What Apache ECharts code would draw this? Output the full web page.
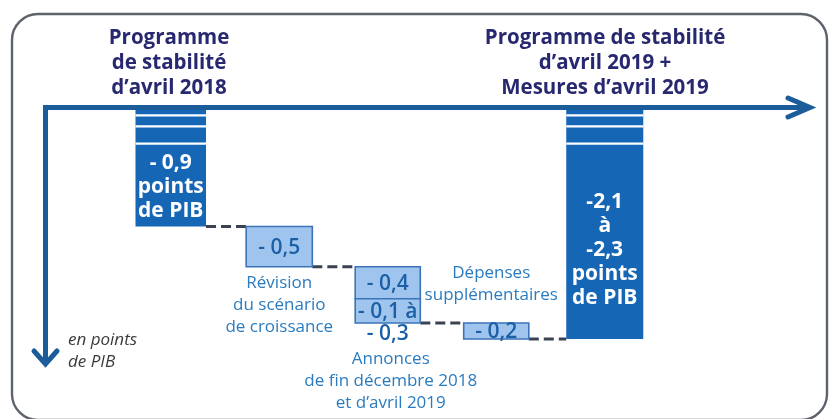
<!DOCTYPE html>
<html lang="fr">
<head>
<meta charset="utf-8">
<title>Solde public : du programme de stabilité 2018 au programme 2019</title>
<script src="https://cdn.jsdelivr.net/npm/echarts@6/dist/echarts.min.js"></script>
<style>
  html, body { margin: 0; padding: 0; background: #ffffff; }
  #chart { width: 829px; height: 419px; }
</style>
</head>
<body>
<div id="chart"></div>
<script>
// Columns of the waterfall, left to right
const columns = [
  'Programme de stabilité d’avril 2018',
  'Révision du scénario de croissance',
  'Annonces de fin décembre 2018 et d’avril 2019',
  'Dépenses supplémentaires',
  'Programme de stabilité d’avril 2019 + Mesures d’avril 2019'
];

// Full-height bars (balance, in points of GDP)
const totalColumns = [0, 4];
const totalValues = [-0.9, -2.3];
const totalLabels = ['- 0,9\npoints\nde PIB', '-2,1\nà\n-2,3\npoints\nde PIB'];

// Intermediate steps (change in points of GDP)
const stepColumns = [1, 2, 2, 3];
const stepValues = [-0.5, -0.4, -0.3, -0.2];
const stepLabels = ['- 0,5', '- 0,4', '- 0,1 à', '- 0,2'];
const stepSubLabels = ['', '', '- 0,3', ''];
const stepNotes = [
  'Révision\ndu scénario\nde croissance',
  '',
  'Annonces\nde fin décembre 2018\net d’avril 2019',
  'Dépenses\nsupplémentaires'
];

// Headers above the two programme bars
const headerTitles = [
  'Programme\nde stabilité\nd’avril 2018',
  'Programme de stabilité\nd’avril 2019 +\nMesures d’avril 2019'
];
const unitLabel = 'en points\nde PIB';

// ---- styling ----
const FONT = '"Open Sans", "Noto Sans", sans-serif';
const DARK = '#1666b6';
const LIGHT = '#9fc5ef';
const LIGHT_EDGE = '#3b74b8';
const STEP_TEXT = '#1b5fa6';
const NOTE_TEXT = '#2a7bbf';
const TITLE_TEXT = '#27286f';
const AXIS = '#1b5c9b';
const LINK = '#3b4251';
const widthRatio = [0.65, 0.61, 0.6, 0.6, 0.71];
// note placement relative to its box: side, vertical gap and horizontal shift in px
const noteLayout = [
  { side: 'below', gap: 5, dx: 0 },
  null,
  { side: 'below', gap: 25, dx: 3 },
  { side: 'above', gap: 17, dx: -5 }
];

// ---- waterfall construction ----
let level = totalValues[0];
const stepData = stepValues.map((v, i) => {
  const from = level;
  level = +(level + v).toFixed(2);
  return [stepColumns[i], from, level, i];
});
const totalData = totalValues.map((v, i) => [totalColumns[i], v, i]);

// connectors at each change of column, at the level shared by the two boxes
const sequence = [[totalColumns[0], totalValues[0]]]
  .concat(stepData.map(d => [d[0], d[2]]))
  .concat([[totalColumns[1], totalValues[1]]]);
const linkData = [];
for (let i = 1; i < sequence.length; i++) {
  if (sequence[i][0] !== sequence[i - 1][0]) {
    linkData.push([sequence[i - 1][0], sequence[i][0], sequence[i - 1][1]]);
  }
}

const chart = echarts.init(document.getElementById('chart'), null, { renderer: 'canvas' });

function halfWidth(api, col) {
  return api.size([1, 0])[0] * widthRatio[col] / 2;
}

function renderTotal(params, api) {
  const col = api.value(0);
  const v = api.value(1);
  const idx = api.value(2);
  const cx = api.coord([col, v])[0];
  const bottom = api.coord([col, v])[1];
  const zero = api.coord([col, 0])[1];
  const top = params.coordSys.y;
  const hw = halfWidth(api, col);
  const children = [{
    type: 'rect',
    shape: { x: cx - hw, y: top, width: hw * 2, height: bottom - top },
    style: { fill: DARK }
  }];
  // white cut marks: the bar continues beyond the top of the frame
  [4.2, 15.3, 32.6].forEach(off => {
    children.push({
      type: 'rect',
      shape: { x: cx - hw, y: top + off, width: hw * 2, height: 2.2 },
      style: { fill: '#ffffff' }
    });
  });
  children.push({
    type: 'text',
    style: {
      text: totalLabels[idx], x: cx, y: zero + 0.56 * (bottom - zero) - 8,
      align: 'center', verticalAlign: 'middle',
      fill: '#ffffff', font: 'bold 21px ' + FONT, lineHeight: 24
    }
  });
  return { type: 'group', children };
}

function renderStep(params, api) {
  const col = api.value(0);
  const from = api.value(1);
  const to = api.value(2);
  const idx = api.value(3);
  const p0 = api.coord([col, from]);
  const p1 = api.coord([col, to]);
  const hw = halfWidth(api, col);
  const cx = p0[0];
  const children = [{
    type: 'rect',
    shape: { x: cx - hw, y: p0[1], width: hw * 2, height: p1[1] - p0[1] },
    style: { fill: LIGHT, stroke: LIGHT_EDGE, lineWidth: 1.6 }
  }, {
    type: 'text',
    style: {
      text: stepLabels[idx], x: cx, y: (p0[1] + p1[1]) / 2 + 1,
      align: 'center', verticalAlign: 'middle',
      fill: STEP_TEXT, font: '600 21px ' + FONT
    }
  }];
  if (stepSubLabels[idx]) {
    children.push({
      type: 'text',
      style: {
        text: stepSubLabels[idx], x: cx, y: p1[1] + 11,
        align: 'center', verticalAlign: 'middle',
        fill: STEP_TEXT, font: '600 21px ' + FONT
      }
    });
  }
  const lay = noteLayout[idx];
  if (stepNotes[idx] && lay) {
    const below = lay.side === 'below';
    children.push({
      type: 'text',
      style: {
        text: stepNotes[idx], x: cx + lay.dx,
        y: below ? p1[1] + lay.gap : p0[1] - lay.gap,
        align: 'center', verticalAlign: below ? 'top' : 'bottom',
        fill: NOTE_TEXT, font: '17px ' + FONT, lineHeight: 22
      }
    });
  }
  return { type: 'group', children };
}

function renderLink(params, api) {
  const c0 = api.value(0);
  const c1 = api.value(1);
  const lv = api.value(2);
  const a = api.coord([c0, lv]);
  const b = api.coord([c1, lv]);
  return {
    type: 'line',
    shape: { x1: a[0] + halfWidth(api, c0), y1: a[1], x2: b[0] - halfWidth(api, c1), y2: b[1] },
    style: { stroke: LINK, lineWidth: 3, lineDash: [10, 5] }
  };
}

const option = {
  animation: false,
  backgroundColor: '#ffffff',
  grid: { left: 116.5, right: 170, top: 110, bottom: 80 },
  xAxis: {
    type: 'category', data: columns, show: false
  },
  yAxis: {
    type: 'value', min: -2.3, max: 0.55, show: false
  },
  graphic: [
    {
      type: 'rect', z: -10, silent: true,
      shape: { x: 12, y: 14, width: 815, height: 406, r: 26 },
      style: { fill: 'none', stroke: '#5d636b', lineWidth: 2.4 }
    },
    {
      type: 'polyline', z: 10, silent: true,
      shape: { points: [[45.5, 362], [45.5, 107.5], [808, 107.5]] },
      style: { stroke: AXIS, lineWidth: 5, fill: 'none', lineJoin: 'miter' }
    },
    {
      type: 'polyline', z: 10, silent: true,
      shape: { points: [[788, 98], [810, 107.5], [788, 117]] },
      style: { stroke: AXIS, lineWidth: 5, fill: 'none', lineJoin: 'miter', lineCap: 'round' }
    },
    {
      type: 'polyline', z: 10, silent: true,
      shape: { points: [[34, 351], [45.5, 364], [57, 351]] },
      style: { stroke: AXIS, lineWidth: 5, fill: 'none', lineJoin: 'miter', lineCap: 'round' }
    },
    {
      type: 'text', x: 169, y: 63, silent: true,
      style: {
        text: headerTitles[0], align: 'center', verticalAlign: 'middle',
        fill: TITLE_TEXT, font: 'bold 20.5px ' + FONT, lineHeight: 25
      }
    },
    {
      type: 'text', x: 605, y: 63, silent: true,
      style: {
        text: headerTitles[1], align: 'center', verticalAlign: 'middle',
        fill: TITLE_TEXT, font: 'bold 20.5px ' + FONT, lineHeight: 25
      }
    },
    {
      type: 'text', x: 68, y: 351, silent: true,
      style: {
        text: unitLabel, align: 'left', verticalAlign: 'middle',
        fill: '#3a3a3a', font: 'italic 17px ' + FONT, lineHeight: 22
      }
    }
  ],
  series: [
    { type: 'custom', name: 'liens', renderItem: renderLink, data: linkData, z: 1, silent: true },
    { type: 'custom', name: 'soldes', renderItem: renderTotal, data: totalData, z: 2, silent: true },
    { type: 'custom', name: 'variations', renderItem: renderStep, data: stepData, z: 3, silent: true }
  ]
};

chart.setOption(option);
</script>
</body>
</html>
